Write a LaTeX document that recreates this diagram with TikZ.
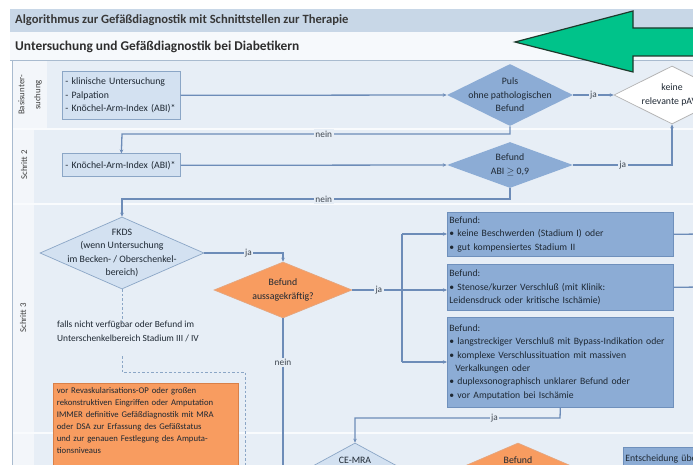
\documentclass[tikz,border=0pt]{standalone}
\usepackage{fontspec}
\setmainfont{Carlito}
\usetikzlibrary{shapes.geometric,arrows.meta,calc}

\definecolor{titleband}{HTML}{C8D7E7}
\definecolor{subband}{HTML}{F6F9FC}
\definecolor{panel}{HTML}{E7EEF6}
\definecolor{labelcol}{HTML}{F3F6FA}
\definecolor{lightfill}{HTML}{D3E1F1}
\definecolor{lightline}{HTML}{8BA6C6}
\definecolor{midfill}{HTML}{8CACD5}
\definecolor{midline}{HTML}{6F90BC}
\definecolor{orangefill}{HTML}{F89C60}
\definecolor{orangeline}{HTML}{D98048}
\definecolor{greenfill}{HTML}{00C38A}
\definecolor{greenline}{HTML}{1E3A2C}
\definecolor{conncol}{HTML}{6D8CB8}
\definecolor{txt}{HTML}{1E2833}
\definecolor{sepcol}{HTML}{F9FBFD}
\definecolor{panelborder}{HTML}{A9BBCF}

\begin{document}
\begin{tikzpicture}[x=1pt,y=-1pt,
  every node/.style={text=txt, font=\fontsize{9.8}{13.5}\selectfont},
  conn/.style={draw=conncol, line width=1.3pt},
  arr/.style={conn, -{Stealth[length=4pt,width=3.5pt]}},
  lbl/.style={fill=panel, inner sep=1.5pt, font=\fontsize{9.3}{10}\selectfont, text=txt!85},
  lightbox/.style={draw=lightline, fill=lightfill, line width=0.7pt, align=left, inner xsep=3pt, inner ysep=2pt, anchor=north west},
  darkbox/.style={draw=midline, fill=midfill, line width=0.7pt, align=left, inner xsep=2pt, inner ysep=3pt, anchor=north west, text width=222pt, font=\fontsize{9.7}{13.3}\selectfont},
  diam/.style={diamond, inner sep=0pt, line width=0.7pt},
  dl/.style={align=center, font=\fontsize{9.8}{13.5}\selectfont},
  dotline/.style={draw=lightline, line width=0.8pt, dash pattern=on 2.5pt off 2pt},
  rowlab/.style={rotate=90, align=center, font=\fontsize{8.8}{16}\selectfont, text=black!75},
]
\useasboundingbox (0,0) rectangle (693,465);
\begin{scope}
\clip (0,0) rectangle (693,465);
% backgrounds
\fill[white] (0,0) rectangle (693,465);
\fill[titleband] (10,9) rectangle (693,32);
\fill[subband] (10,32) rectangle (693,60);
\draw[panelborder, line width=0.8pt] (10,60.5) -- (693,60.5);
\fill[panel] (12,61) rectangle (693,465);
\fill[labelcol] (12,61) rectangle (47,128.5);
\fill[labelcol] (12,129.5) rectangle (34,203.5);
\fill[labelcol] (12,204.5) rectangle (34,432.5);
\fill[labelcol] (12,433.5) rectangle (34,465);
\draw[sepcol, line width=1.5pt] (12,129) -- (693,129);
\draw[sepcol, line width=1.5pt] (12,204) -- (693,204);
\draw[sepcol, line width=1.5pt] (12,433) -- (693,433);
\draw[panelborder, line width=0.8pt] (12,61) -- (12,465);

% titles
\node[anchor=west, inner sep=0pt, font=\fontsize{12.6}{14}\selectfont\bfseries, text=black!78] (title) at (15,20) {Algorithmus zur Gefäßdiagnostik mit Schnittstellen zur Therapie};
\node[anchor=west, inner sep=0pt, font=\fontsize{13.4}{15}\selectfont\bfseries, text=black!82] (sub) at (15,47) {Untersuchung und Gefäßdiagnostik bei Diabetikern};

% green arrow
\filldraw[fill=greenfill, draw=greenline, line width=1.2pt] (515,42) -- (633,11) -- (633,28) -- (700,28) -- (700,56) -- (633,56) -- (633,72) -- cycle;

% row labels
\node[rowlab] (l1) at (30,95) {Basisunter-\\suchung};
\node[rowlab] (l2) at (24,165) {Schritt 2};
\node[rowlab] (l3) at (23,318) {Schritt 3};

% boxes
\node[lightbox, text width=112pt, minimum height=48pt] (a) at (62,71) {- klinische Untersuchung\\- Palpation\\- Knöchel-Arm-Index (ABI)*};
\node[lightbox, text width=112pt, minimum height=23pt] (b) at (62,153.5) {- Knöchel-Arm-Index (ABI)*};

% diamonds
\node[diam, fill=midfill, minimum width=126pt, minimum height=62pt, label={[dl]center:{Puls\\ohne pathologischen\\Befund}}] (d1) at (510,95) {};
\node[diam, fill=white, draw=black!30, minimum width=116pt, minimum height=58pt, label={[dl]center:{keine\\relevante pAVK}}] (d2) at (672,95) {};
\node[diam, fill=midfill, minimum width=126pt, minimum height=46pt, label={[dl]center:{Befund\\ABI $\geq$ 0,9}}] (d3) at (510,165) {};
\node[diam, fill=lightfill, draw=lightline, minimum width=164pt, minimum height=72pt, label={[dl]center:{FKDS\\(wenn Untersuchung\\im Becken- / Oberschenkel-\\bereich)}}] (fkds) at (122,253) {};
\node[diam, fill=orangefill, draw=orangeline!70, minimum width=138pt, minimum height=56pt, label={[dl]center:{Befund\\aussagekräftig?}}] (d4) at (283,290) {};
\node[diam, fill=lightfill, draw=lightline, minimum width=114pt, minimum height=62pt] (ce) at (355,474) {};
\node (cet) at (355,460) {CE-MRA};
\node[diam, fill=orangefill, draw=orangeline!70, minimum width=144pt, minimum height=62pt] (d5) at (518,474) {};
\node (d5t) at (518,460) {Befund};

% right boxes
\node[darkbox, minimum height=44pt] (r1) at (447,212) {Befund:\\• keine Beschwerden (Stadium I) oder\\• gut kompensiertes Stadium II};
\node[darkbox, minimum height=46pt] (r2) at (447,264) {Befund:\\• Stenose/kurzer Verschluß (mit Klinik:\\Leidensdruck oder kritische Ischämie)};
\node[darkbox, minimum height=90pt] (r3) at (447,317) {Befund:\\• langstreckiger Verschluß mit Bypass-Indikation oder\\• komplexe Verschlussituation mit massiven\\\hspace*{6pt}Verkalkungen oder\\• duplexsonographisch unklarer Befund oder\\• vor Amputation bei Ischämie};
\node[darkbox, text width=80pt, minimum height=24pt] (ent) at (623,447) {Entscheidung über};

% left texts
\node[anchor=north west, inner sep=0pt, align=left, font=\fontsize{9.4}{13.5}\selectfont] (falls) at (57,321) {falls nicht verfügbar oder Befund im\\Unterschenkelbereich Stadium III / IV};
\node[draw=orangeline, fill=orangefill, anchor=north west, text width=178pt, align=left, inner xsep=3.5pt, inner ysep=4pt, line width=0.7pt, font=\fontsize{8.7}{12}\selectfont] (ob) at (53,383) {vor Revaskularisations-OP oder großen\\rekonstruktiven Eingriffen oder Amputation\\IMMER definitive Gefäßdiagnostik mit MRA\\oder DSA zur Erfassung des Gefäßstatus\\und zur genauen Festlegung des Amputa-\\tionsniveaus\\~};

% coordinates
\coordinate (c1) at (122,134);
\coordinate (c2) at (122,199);
\coordinate (bt) at (402,234);
\coordinate (bb) at (402,362);
\coordinate (d4e) at (283,470);
\coordinate (j1) at (560,418);
\coordinate (o1) at (700,234);
\coordinate (o2) at (700,287);
\coordinate (q1) at (122,356);
\coordinate (q2) at (122,372);
\coordinate (q3) at (245,372);
\coordinate (q4) at (245,470);

% connectors
\draw[arr] (a.east) -- (d1.west);
\draw[arr] (d1.east) -- node[lbl]{ja} (d2.west);
\draw[arr] (d1.south) |- node[lbl,pos=0.74]{nein} (c1) -- (b.north);
\draw[arr] (b.east) -- (d3.west);
\draw[arr] (d3.east) -| node[lbl,pos=0.25]{ja} (d2.south);
\draw[arr] (d3.south) |- node[lbl,pos=0.74]{nein} (c2) -- (fkds.north);
\draw[arr] (fkds.east) -| node[lbl,pos=0.28]{ja} (d4.north);
\draw[arr] (d4.east) -- node[lbl,pos=0.28]{ja} (d4.east -| r2.west);
\draw[conn] (bt) -- (bb);
\draw[arr] (bt) -- (bt -| r1.west);
\draw[arr] (bb) -- (bb -| r3.west);
\draw[conn] (d4.south) -- node[lbl,pos=0.29]{nein} (d4e);
\draw[arr] (r3.south) -- (j1) -| node[lbl,pos=0.16]{ja} (ce.north);
\draw[conn] (r1.east) -- (o1);
\draw[conn] (r2.east) -- (o2);
\draw[dotline] (fkds.south) -- (fkds.south |- falls.north);
\draw[dotline] (q1) -- (q2) -- (q3) -- (q4);
\end{scope}
\end{tikzpicture}
\end{document}
